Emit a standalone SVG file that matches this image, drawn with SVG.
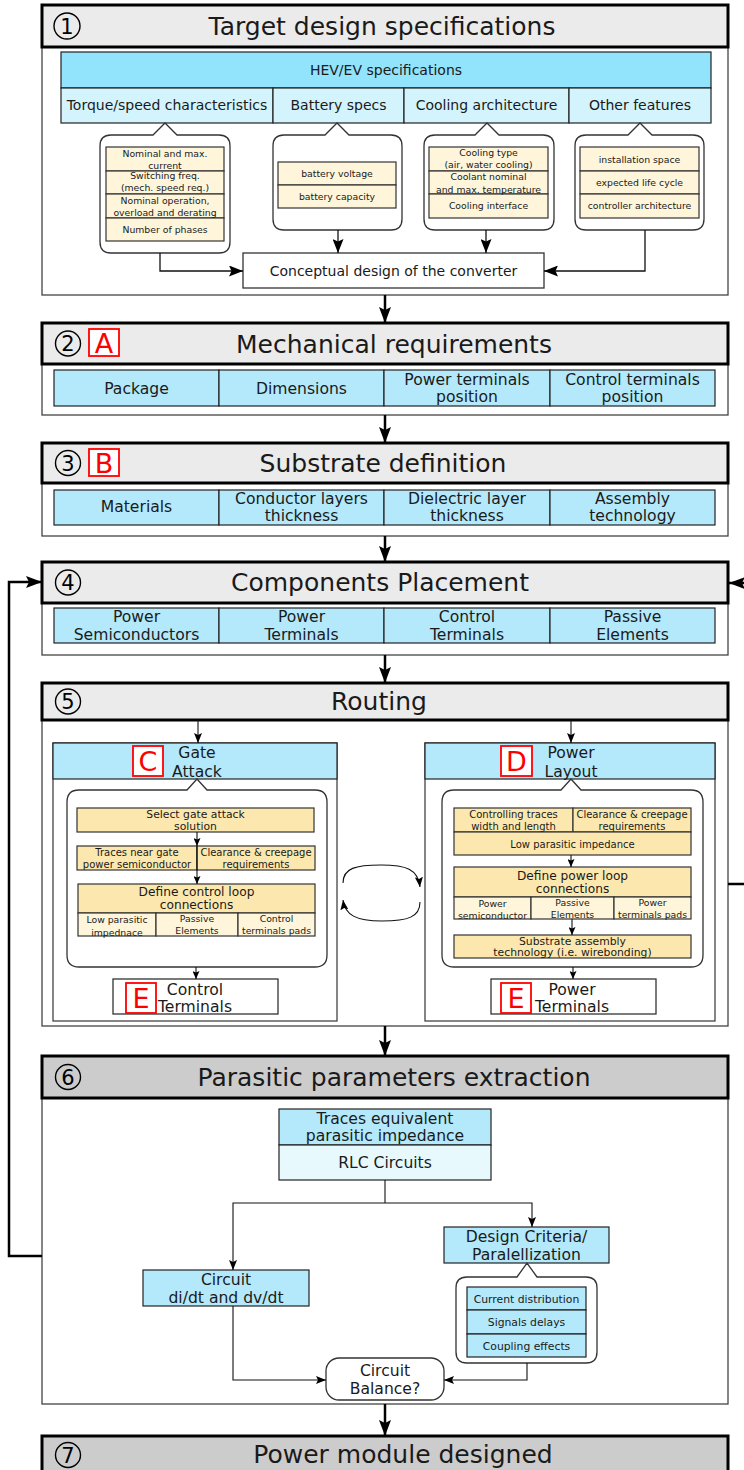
<svg xmlns="http://www.w3.org/2000/svg" width="744" height="1470" viewBox="0 0 744 1470">
<style>
.t{font-family:"DejaVu Sans",Verdana,sans-serif;fill:#1a1a1a;text-anchor:middle}
.title{font-size:25px}
.hdr{fill:#ebebeb;stroke:#000;stroke-width:3}
.hdr2{fill:#cccccc;stroke:#000;stroke-width:3}
.body{fill:#fff;stroke:#444;stroke-width:1.3}
.cell{fill:#b3e9fb;stroke:#222;stroke-width:1.2}
.hev{fill:#92e3fc;stroke:#222;stroke-width:1.2}
.hev2{fill:#d3f4fd;stroke:#222;stroke-width:1.2}
.rlc{fill:#e8f9fe;stroke:#222;stroke-width:1.2}
.num{fill:none;stroke:#000;stroke-width:1.4}
.numt{font-size:21px;fill:#000}
.tag{fill:#fff;stroke:#f00;stroke-width:1.8}
.tagt{font-size:27px;fill:#f00}
.bub{fill:#fff;stroke:#333;stroke-width:1.3}
.cream{fill:#fef5da;stroke:#333;stroke-width:1.2}
.tan{fill:#fce8ae;stroke:#333;stroke-width:1.2}
.box{fill:#fff;stroke:#333;stroke-width:1.3}
.thick{stroke:#000;stroke-width:2.5;fill:none;marker-end:url(#ah-big)}
.med{stroke:#111;stroke-width:1.3;fill:none;marker-end:url(#ah-med)}
.sm{stroke:#111;stroke-width:1.1;fill:none;marker-end:url(#ah-sm)}
.xs{stroke:#111;stroke-width:1.1;fill:none;marker-end:url(#ah-xs)}
.ln{stroke:#111;stroke-width:1.1;fill:none}
.f9{font-size:9.3px}
.f10{font-size:10px}
.f11{font-size:10.8px}
.f12{font-size:12.2px}
.f14{font-size:14px}
.f16{font-size:15.6px}
</style>
<defs>
<marker id="ah-big" markerUnits="userSpaceOnUse" viewBox="0 0 16 12" markerWidth="16" markerHeight="12" refX="16" refY="6" orient="auto"><path d="M0,0 L16,6 L0,12 L3,6 z" fill="#000"/></marker>
<marker id="ah-med" markerUnits="userSpaceOnUse" viewBox="0 0 14 11" markerWidth="14" markerHeight="11" refX="14" refY="5.5" orient="auto"><path d="M0,0 L14,5.5 L0,11 L2.5,5.5 z" fill="#000"/></marker>
<marker id="ah-sm" markerUnits="userSpaceOnUse" viewBox="0 0 10 8" markerWidth="10" markerHeight="8" refX="10" refY="4" orient="auto"><path d="M0,0 L10,4 L0,8 L2,4 z" fill="#000"/></marker>
<marker id="ah-xs" markerUnits="userSpaceOnUse" viewBox="0 0 8 7" markerWidth="8" markerHeight="7" refX="8" refY="3.5" orient="auto"><path d="M0,0 L8,3.5 L0,7 L1.5,3.5 z" fill="#000"/></marker>
</defs>
<rect width="744" height="1470" fill="#fff"/>

<!-- 1: target design specifications -->
<g id="s1">
  <rect class="body" x="42" y="47" width="686" height="248"/>
  <rect class="hdr" x="42" y="5" width="686" height="42"/>
  <circle class="num" cx="67" cy="26" r="13"/>
  <text class="t numt" x="67" y="33.5">1</text>
  <text class="t title" x="382" y="35">Target design specifications</text>
</g>
<g id="hev">
  <rect class="hev" x="61" y="52" width="650" height="36"/>
  <text class="t f14" x="386" y="75">HEV/EV specifications</text>
  <rect class="hev2" x="61" y="88" width="212" height="35"/>
  <rect class="hev2" x="273" y="88" width="131" height="35"/>
  <rect class="hev2" x="404" y="88" width="165" height="35"/>
  <rect class="hev2" x="569" y="88" width="142" height="35"/>
  <text class="t f14" x="167" y="110">Torque/speed characteristics</text>
  <text class="t f14" x="338.5" y="110">Battery specs</text>
  <text class="t f14" x="486.5" y="110">Cooling architecture</text>
  <text class="t f14" x="640" y="110">Other features</text>
</g>
<g id="torque-details">
  <path class="bub" d="M111,135 H153 L165,123 L177,135 H219 Q230,135 230,146 V242 Q230,253 219,253 H111 Q100,253 100,242 V146 Q100,135 111,135 Z"/>
  <rect class="cream" x="106" y="147" width="118" height="24"/>
  <rect class="cream" x="106" y="171" width="118" height="23"/>
  <rect class="cream" x="106" y="194" width="118" height="24"/>
  <rect class="cream" x="106" y="218" width="118" height="23"/>
  <text class="t f9" x="165" y="157">Nominal and max.</text>
  <text class="t f9" x="165" y="169">current</text>
  <text class="t f9" x="165" y="179">Switching freq.</text>
  <text class="t f9" x="165" y="191">(mech. speed req.)</text>
  <text class="t f9" x="165" y="203.5">Nominal operation,</text>
  <text class="t f9" x="165" y="215.5">overload and derating</text>
  <text class="t f9" x="165" y="232.5">Number of phases</text>
</g>
<g id="battery-details">
  <path class="bub" d="M284,135 H325 L337,123 L349,135 H391 Q402,135 402,146 V219 Q402,230 391,230 H284 Q273,230 273,219 V146 Q273,135 284,135 Z"/>
  <rect class="cream" x="278" y="162" width="118" height="23"/>
  <rect class="cream" x="278" y="185" width="118" height="23"/>
  <text class="t f9" x="337" y="177">battery voltage</text>
  <text class="t f9" x="337" y="200">battery capacity</text>
</g>
<g id="cooling-details">
  <path class="bub" d="M435,135 H475 L487,123 L499,135 H543 Q554,135 554,146 V219 Q554,230 543,230 H435 Q424,230 424,219 V146 Q424,135 435,135 Z"/>
  <rect class="cream" x="429" y="147" width="119" height="24"/>
  <rect class="cream" x="429" y="171" width="119" height="23"/>
  <rect class="cream" x="429" y="194" width="119" height="24"/>
  <text class="t f9" x="488.5" y="155.5">Cooling type</text>
  <text class="t f9" x="488.5" y="167.5">(air, water cooling)</text>
  <text class="t f9" x="488.5" y="180">Coolant nominal</text>
  <text class="t f9" x="488.5" y="192.5">and max. temperature</text>
  <text class="t f9" x="488.5" y="208.5">Cooling interface</text>
</g>
<g id="other-details">
  <path class="bub" d="M586,135 H628 L640,123 L652,135 H693 Q704,135 704,146 V219 Q704,230 693,230 H586 Q575,230 575,219 V146 Q575,135 586,135 Z"/>
  <rect class="cream" x="580" y="147" width="119" height="24"/>
  <rect class="cream" x="580" y="171" width="119" height="23"/>
  <rect class="cream" x="580" y="194" width="119" height="24"/>
  <text class="t f9" x="639.5" y="162.5">installation space</text>
  <text class="t f9" x="639.5" y="185.5">expected life cycle</text>
  <text class="t f9" x="639.5" y="208.5">controller architecture</text>
</g>
<g id="conceptual">
  <rect class="box" x="243" y="253" width="301" height="35"/>
  <text class="t f14" x="393.5" y="276">Conceptual design of the converter</text>
</g>

<!-- 2: mechanical requirements -->
<g id="s2">
  <rect class="body" x="42" y="364" width="686" height="51"/>
  <rect class="hdr" x="42" y="323" width="686" height="41"/>
  <circle class="num" cx="68" cy="343.5" r="12.5"/>
  <text class="t numt" x="68" y="351">2</text>
  <rect class="tag" x="89" y="329" width="30" height="27"/>
  <text class="t tagt" x="104" y="352.5">A</text>
  <text class="t title" x="394" y="352.5">Mechanical requirements</text>
  <rect class="cell" x="54" y="370" width="165" height="36"/>
  <rect class="cell" x="219" y="370" width="165" height="36"/>
  <rect class="cell" x="384" y="370" width="166" height="36"/>
  <rect class="cell" x="550" y="370" width="165" height="36"/>
  <text class="t f16" x="136.5" y="393.5">Package</text>
  <text class="t f16" x="301.5" y="393.5">Dimensions</text>
  <text class="t f16" x="467" y="384.5">Power terminals</text>
  <text class="t f16" x="467" y="401.5">position</text>
  <text class="t f16" x="632.5" y="384.5">Control terminals</text>
  <text class="t f16" x="632.5" y="401.5">position</text>
</g>

<!-- 3: substrate definition -->
<g id="s3">
  <rect class="body" x="42" y="483" width="686" height="53"/>
  <rect class="hdr" x="42" y="443" width="686" height="40"/>
  <circle class="num" cx="68" cy="463" r="12.5"/>
  <text class="t numt" x="68" y="470.5">3</text>
  <rect class="tag" x="89" y="449" width="30" height="27"/>
  <text class="t tagt" x="104" y="472.5">B</text>
  <text class="t title" x="383" y="472">Substrate definition</text>
  <rect class="cell" x="54" y="490" width="165" height="35"/>
  <rect class="cell" x="219" y="490" width="165" height="35"/>
  <rect class="cell" x="384" y="490" width="166" height="35"/>
  <rect class="cell" x="550" y="490" width="165" height="35"/>
  <text class="t f16" x="136.5" y="512">Materials</text>
  <text class="t f16" x="301.5" y="503.5">Conductor layers</text>
  <text class="t f16" x="301.5" y="521">thickness</text>
  <text class="t f16" x="467" y="503.5">Dielectric layer</text>
  <text class="t f16" x="467" y="521">thickness</text>
  <text class="t f16" x="632.5" y="503.5">Assembly</text>
  <text class="t f16" x="632.5" y="521">technology</text>
</g>

<!-- 4: components placement -->
<g id="s4">
  <rect class="body" x="42" y="603" width="686" height="52"/>
  <rect class="hdr" x="42" y="562" width="686" height="41"/>
  <circle class="num" cx="68" cy="582.5" r="12.5"/>
  <text class="t numt" x="68" y="590">4</text>
  <text class="t title" x="380" y="591">Components Placement</text>
  <rect class="cell" x="54" y="608" width="165" height="35"/>
  <rect class="cell" x="219" y="608" width="165" height="35"/>
  <rect class="cell" x="384" y="608" width="166" height="35"/>
  <rect class="cell" x="550" y="608" width="165" height="35"/>
  <text class="t f16" x="136.5" y="621.5">Power</text>
  <text class="t f16" x="136.5" y="639.5">Semiconductors</text>
  <text class="t f16" x="301.5" y="621.5">Power</text>
  <text class="t f16" x="301.5" y="639.5">Terminals</text>
  <text class="t f16" x="467" y="621.5">Control</text>
  <text class="t f16" x="467" y="639.5">Terminals</text>
  <text class="t f16" x="632.5" y="621.5">Passive</text>
  <text class="t f16" x="632.5" y="639.5">Elements</text>
</g>

<!-- 5: routing -->
<g id="s5">
  <rect class="body" x="42" y="720" width="686" height="306"/>
  <rect class="hdr" x="42" y="683" width="686" height="37"/>
  <circle class="num" cx="68" cy="701.5" r="12.5"/>
  <text class="t numt" x="68" y="709">5</text>
  <text class="t title" x="379" y="710">Routing</text>
</g>
<g id="gate-attack">
  <rect class="body" x="53" y="743" width="284" height="278"/>
  <rect class="cell" x="53" y="743" width="284" height="36"/>
  <rect class="tag" x="133" y="746" width="30" height="30"/>
  <text class="t tagt" x="148" y="771">C</text>
  <text class="t f16" x="197" y="758">Gate</text>
  <text class="t f16" x="197" y="777">Attack</text>
  <path class="bub" d="M79,790 H187 L197,779 L207,790 H315 Q327,790 327,802 V955 Q327,967 315,967 H79 Q67,967 67,955 V802 Q67,790 79,790 Z"/>
  <rect class="tan" x="77" y="808" width="237" height="24"/>
  <text class="t f11" x="195.5" y="818">Select gate attack</text>
  <text class="t f11" x="195.5" y="830">solution</text>
  <rect class="tan" x="77" y="846" width="120" height="24"/>
  <rect class="tan" x="197" y="846" width="118" height="24"/>
  <text class="t f10" x="137" y="856">Traces near gate</text>
  <text class="t f10" x="137" y="868">power semiconductor</text>
  <text class="t f10" x="256" y="856">Clearance &amp; creepage</text>
  <text class="t f10" x="256" y="868">requirements</text>
  <rect class="tan" x="78" y="884" width="237" height="29"/>
  <text class="t f12" x="196.5" y="895.5">Define control loop</text>
  <text class="t f12" x="196.5" y="908.5">connections</text>
  <rect class="cream" x="78" y="913" width="78" height="23"/>
  <rect class="cream" x="156" y="913" width="82" height="23"/>
  <rect class="cream" x="238" y="913" width="77" height="23"/>
  <text class="t f9" x="117" y="923">Low parasitic</text>
  <text class="t f9" x="117" y="935.5">impednace</text>
  <text class="t f9" x="197" y="922">Passive</text>
  <text class="t f9" x="197" y="934">Elements</text>
  <text class="t f9" x="276.5" y="922">Control</text>
  <text class="t f9" x="276.5" y="934">terminals pads</text>
</g>
<g id="control-terminals">
  <rect class="box" x="113" y="979" width="165" height="35"/>
  <rect class="tag" x="126" y="983" width="30" height="30"/>
  <text class="t tagt" x="141" y="1008">E</text>
  <text class="t f16" x="195" y="995">Control</text>
  <text class="t f16" x="195" y="1012">Terminals</text>
</g>
<g id="power-layout">
  <rect class="body" x="425" y="743" width="290" height="278"/>
  <rect class="cell" x="425" y="743" width="290" height="36"/>
  <rect class="tag" x="501" y="746" width="31" height="30"/>
  <text class="t tagt" x="516.5" y="771">D</text>
  <text class="t f16" x="571" y="758">Power</text>
  <text class="t f16" x="571" y="777">Layout</text>
  <path class="bub" d="M454,790 H561 L571,779 L581,790 H691 Q703,790 703,802 V955 Q703,967 691,967 H454 Q442,967 442,955 V802 Q442,790 454,790 Z"/>
  <rect class="tan" x="454" y="808" width="119" height="24"/>
  <rect class="tan" x="573" y="808" width="118" height="24"/>
  <text class="t f10" x="513.5" y="818">Controlling traces</text>
  <text class="t f10" x="513.5" y="830">width and length</text>
  <text class="t f10" x="632" y="818">Clearance &amp; creepage</text>
  <text class="t f10" x="632" y="830">requirements</text>
  <rect class="tan" x="454" y="832" width="237" height="23"/>
  <text class="t f10" x="572.5" y="847.5">Low parasitic impedance</text>
  <rect class="tan" x="454" y="867" width="237" height="30"/>
  <text class="t f12" x="572.5" y="880">Define power loop</text>
  <text class="t f12" x="572.5" y="893">connections</text>
  <rect class="cream" x="454" y="897" width="77" height="22"/>
  <rect class="cream" x="531" y="897" width="83" height="22"/>
  <rect class="cream" x="614" y="897" width="77" height="22"/>
  <text class="t f9" x="492.5" y="906.5">Power</text>
  <text class="t f9" x="492.5" y="918.5">semiconductor</text>
  <text class="t f9" x="572.5" y="905.5">Passive</text>
  <text class="t f9" x="572.5" y="917.5">Elements</text>
  <text class="t f9" x="652.5" y="905.5">Power</text>
  <text class="t f9" x="652.5" y="917.5">terminals pads</text>
  <rect class="tan" x="454" y="935" width="237" height="23"/>
  <text class="t f11" x="572.5" y="944.5">Substrate assembly</text>
  <text class="t f11" x="572.5" y="956">technology (i.e. wirebonding)</text>
</g>
<g id="power-terminals">
  <rect class="box" x="491" y="979" width="165" height="35"/>
  <rect class="tag" x="501" y="983" width="30" height="30"/>
  <text class="t tagt" x="516" y="1008">E</text>
  <text class="t f16" x="572" y="995">Power</text>
  <text class="t f16" x="572" y="1012">Terminals</text>
</g>

<!-- 6: parasitic parameters extraction -->
<g id="s6">
  <rect class="body" x="42" y="1098" width="686" height="306"/>
  <rect class="hdr2" x="42" y="1056" width="686" height="42"/>
  <circle class="num" cx="68" cy="1077" r="12.5"/>
  <text class="t numt" x="68" y="1084.5">6</text>
  <text class="t title" x="394" y="1086">Parasitic parameters extraction</text>
</g>
<g id="traces-impedance">
  <rect class="cell" x="279" y="1109" width="212" height="36"/>
  <text class="t f16" x="385" y="1124">Traces equivalent</text>
  <text class="t f16" x="385" y="1141">parasitic impedance</text>
  <rect class="rlc" x="279" y="1145" width="212" height="35"/>
  <text class="t f16" x="385" y="1167.5">RLC Circuits</text>
</g>
<g id="design-criteria">
  <rect class="cell" x="444" y="1227" width="165" height="36"/>
  <text class="t f16" x="526.5" y="1242">Design Criteria/</text>
  <text class="t f16" x="526.5" y="1259.5">Paralellization</text>
  <path class="bub" d="M467,1277 H517 L527,1263 L537,1277 H586 Q597,1277 597,1288 V1352 Q597,1363 586,1363 H467 Q456,1363 456,1352 V1288 Q456,1277 467,1277 Z"/>
  <rect class="cell" x="467" y="1287" width="119" height="23"/>
  <rect class="cell" x="467" y="1310" width="119" height="24"/>
  <rect class="cell" x="467" y="1334" width="119" height="23"/>
  <text class="t f11" x="526.5" y="1302.5">Current  distribution</text>
  <text class="t f11" x="526.5" y="1326">Signals delays</text>
  <text class="t f11" x="526.5" y="1349.5">Coupling effects</text>
</g>
<g id="circuit-didt">
  <rect class="cell" x="143" y="1270" width="166" height="36"/>
  <text class="t f16" x="226" y="1285">Circuit</text>
  <text class="t f16" x="226" y="1302.5">di/dt and dv/dt</text>
</g>
<g id="circuit-balance">
  <rect class="box" x="326" y="1358" width="118" height="42" rx="13"/>
  <text class="t f16" x="385" y="1376">Circuit</text>
  <text class="t f16" x="385" y="1394">Balance?</text>
</g>

<!-- 7: power module designed -->
<g id="s7">
  <rect class="hdr2" x="42" y="1436" width="686" height="44"/>
  <circle class="num" cx="68" cy="1455" r="12.5"/>
  <text class="t numt" x="68" y="1462.5">7</text>
  <text class="t title" x="403" y="1463">Power module designed</text>
</g>

<!-- connectors, drawn above the boxes -->
<g id="connectors">
  <path class="med" d="M160,253 V271 H243"/>
  <path class="med" d="M338,230 V253"/>
  <path class="med" d="M486,230 V253"/>
  <path class="med" d="M645,230 V271 H544"/>
  <path class="thick" d="M385,295 V323"/>
  <path class="thick" d="M385,415 V443"/>
  <path class="thick" d="M385,536 V562"/>
  <path class="thick" d="M385,655 V683"/>
  <path class="thick" d="M42,1256 H9 V582 H42"/>
  <path class="thick" d="M728,884 H752 V583 H729"/>
  <path class="sm" d="M198,720 V743"/>
  <path class="sm" d="M571,720 V743"/>
  <path class="xs" d="M197,832 V846"/>
  <path class="xs" d="M197,846 V884"/>
  <path class="xs" d="M196,967 V979"/>
  <path class="xs" d="M571,855 V867"/>
  <path class="xs" d="M572,919 V935"/>
  <path class="xs" d="M573,967 V979"/>
  <path class="sm" d="M343,883 C343,868 356,865 381,865 C406,865 418,869 420,887"/>
  <path class="sm" d="M420,902 C420,917 408,921 382,921 C356,921 345,915 343,900"/>
  <path class="thick" d="M385,1026 V1056"/>
  <path class="ln" d="M385,1180 V1203"/>
  <path class="sm" d="M385,1203 H233 V1270"/>
  <path class="sm" d="M385,1203 H532 V1227"/>
  <path class="sm" d="M233,1306 V1380 H326"/>
  <path class="sm" d="M527,1363 V1380 H444"/>
  <path class="thick" d="M385,1404 V1436"/>
</g>
</svg>
